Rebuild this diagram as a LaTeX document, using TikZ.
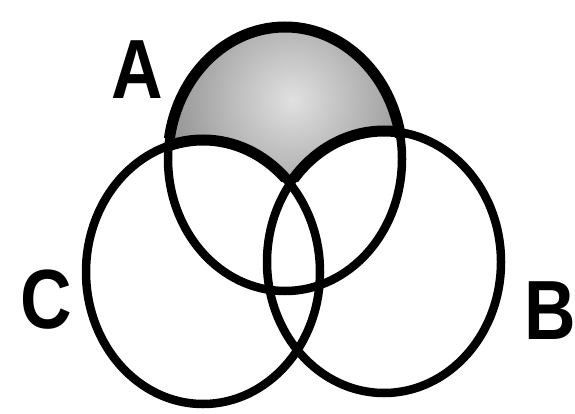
\documentclass[tikz,border=0pt]{standalone}
\usepackage{fontspec}
\setmainfont{Liberation Sans}
\begin{document}
\begin{tikzpicture}[x=1pt,y=-1pt,
  outline/.style={draw=black, line width=8.5pt},
  thickline/.style={draw=black, line width=11pt},
  lbl/.style={font=\fontsize{84}{84}\selectfont\bfseries, inner sep=0pt, xscale=0.85}]
\useasboundingbox (0,0) rectangle (575,414);
\def\setA{(285,159) ellipse [x radius=117, y radius=132]}
\def\setB{(384,262) ellipse [x radius=117, y radius=131]}
\def\setC{(203,272) ellipse [x radius=117, y radius=132]}
% shading of A minus (B or C)
\begin{scope}
  \clip \setA;
  \shade[inner color=black!12, outer color=black!72] (292,100) circle [radius=250];
  \fill[white] \setB;
  \fill[white] \setC;
\end{scope}
% outlines
\path[outline] \setA;
\path[outline] \setB;
\path[outline] \setC;
% heavier boundary of the shaded region
\begin{scope}
  \clip (0,0) rectangle (575,138);
  \path[thickline] \setA;
\end{scope}
\begin{scope}
  \clip \setA;
  \clip (0,0) rectangle (575,182);
  \path[thickline] \setB;
  \path[thickline] \setC;
\end{scope}
% labels
\node[lbl] (labA) at (137,70) {A};
\node[lbl] (labB) at (550,311) {B};
\node[lbl] (labC) at (46,300) {C};
\end{tikzpicture}
\end{document}
